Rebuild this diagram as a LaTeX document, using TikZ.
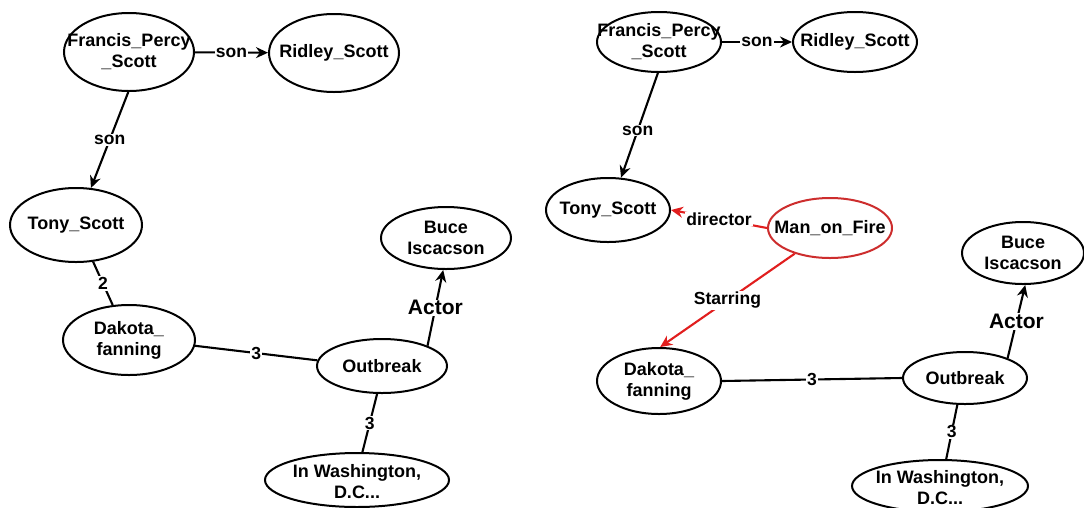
\documentclass[tikz,border=0pt]{standalone}
\usepackage{fontspec}
\setmainfont{Liberation Sans}
\usetikzlibrary{shapes.geometric,arrows.meta}
\definecolor{redline}{RGB}{225,30,30}
\definecolor{redbox}{RGB}{205,45,45}
\begin{document}
\begin{tikzpicture}[x=1pt,y=-1pt,
  ent/.style={draw, ellipse, line width=2pt, inner sep=0pt},
  every label/.style={font=\fontsize{18}{21}\selectfont\bfseries, align=center, text=black},
  elab/.style={font=\fontsize{17.5}{21}\selectfont\bfseries, fill=white, inner sep=1pt, text=black},
  big/.style={font=\fontsize{21}{24}\selectfont\bfseries},
  edge/.style={line width=2.1pt},
  arr/.style={edge, -{Stealth[length=12pt,width=11pt]}},
]
\useasboundingbox[fill=white] (0,0) rectangle (1084,507);
% left graph
\node[ent, minimum width=130pt, minimum height=78pt, label={center:{Francis\_Percy\\\_Scott}}] (F1) at (129,52) {};
\node[ent, minimum width=130pt, minimum height=78pt, label={center:{Ridley\_Scott}}] (R1) at (334,53) {};
\node[ent, minimum width=132pt, minimum height=74pt, label={center:{Tony\_Scott}}] (T1) at (76,225) {};
\node[ent, minimum width=132pt, minimum height=70pt, label={center:{Dakota\_\\fanning}}] (D1) at (129,340) {};
\node[ent, minimum width=130pt, minimum height=54pt, label={center:{Outbreak}}] (O1) at (382,366) {};
\node[ent, minimum width=130pt, minimum height=62pt, label={center:{Buce\\Iscacson}}] (B1) at (446,238) {};
\node[ent, minimum width=184pt, minimum height=54pt, label={[yshift=-2pt]center:{In Washington,\\D.C...}}] (W1) at (357,480) {};
\draw[arr] (F1) -- node[elab]{son} (R1);
\draw[arr] (F1.-91) -- node[elab]{son} (T1.68);
\draw[edge] (T1.-65) -- node[elab]{2} (D1.115);
\draw[edge] (D1.-5) -- node[elab]{3} (O1.175);
\draw[arr] (O1.24) -- node[elab,big]{Actor} (B1.-95);
\draw[edge] (O1.-100) -- node[elab]{3} (W1.79);
% right graph
\node[ent, minimum width=124pt, minimum height=60pt, label={center:{Francis\_Percy\\\_Scott}}] (F2) at (659,42) {};
\node[ent, minimum width=124pt, minimum height=60pt, label={center:{Ridley\_Scott}}] (R2) at (855,42) {};
\node[ent, minimum width=124pt, minimum height=64pt, label={center:{Tony\_Scott}}] (T2) at (608,210) {};
\node[ent, draw=redbox, minimum width=124pt, minimum height=60pt, label={center:{Man\_on\_Fire}}] (M2) at (830,228) {};
\node[ent, minimum width=124pt, minimum height=66pt, label={center:{Dakota\_\\fanning}}] (D2) at (659,381) {};
\node[ent, minimum width=124pt, minimum height=52pt, label={center:{Outbreak}}] (O2) at (965,378) {};
\node[ent, minimum width=122pt, minimum height=62pt, label={center:{Buce\\Iscacson}}] (B2) at (1023,253) {};
\node[ent, minimum width=176pt, minimum height=52pt, label={[yshift=-2pt]center:{In Washington,\\D.C...}}] (W2) at (940,486) {};
\draw[arr] (F2) -- node[elab]{son} (R2);
\draw[arr] (F2.-92) -- node[elab,pos=0.55]{son} (T2.68);
\draw[arr, redline] (M2.west) -- node[elab]{director} (T2.east);
\draw[arr, redline] (M2.-144) -- node[elab]{Starring} (D2.88);
\draw[edge] (D2.east) -- node[elab]{3} (O2.west);
\draw[arr] (O2.25) -- node[elab,big]{Actor} (B2.-86);
\draw[edge] (O2.-106) -- node[elab]{3} (W2.77);
\end{tikzpicture}
\end{document}
